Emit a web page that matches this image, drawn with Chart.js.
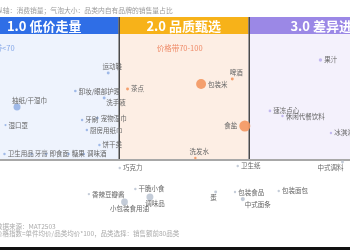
<!DOCTYPE html>
<html><head><meta charset="utf-8">
<script src="https://cdn.jsdelivr.net/npm/chart.js@4.4.0/dist/chart.umd.min.js"></script>
<style>html,body{margin:0;padding:0;background:#fff;overflow:hidden}canvas{display:block}</style>
</head><body>
<canvas id="c" width="350" height="250"></canvas>
<script>
const categories = ['运动鞋','卸妆/眼部护理','洗手液','抽纸/干湿巾','湿口罩','牙刷','宠物湿巾','厨房用纸巾','饼干类','卫生用品','牙膏','即食面','糖果','调味酒',
  '茶点','包装米','啤酒','洗发水','食盐',
  '果汁','速冻点心','休闲代餐饮料','冰淇淋',
  '巧克力','卫生纸','中式调料','干脆小食','香辣豆瓣酱','调味品','小包装食用油','蛋','包装食品','中式面条','包装面包'];
const priceIndex = [30.3,20.6,29.1,3.4,0,22.6,27.1,24.0,27.7,-0.3,7.7,12.0,18.6,23.1,
  36.0,57.7,66.9,56.0,70.6,
  92.9,78.0,81.7,96.0,
  33.7,68.5,99.4,38.3,24.6,42.6,35.1,62.0,67.7,70.0,80.6];
const salesVolume = [78.8,69.0,65.2,60.3,50.5,53.3,54.3,47.8,39.7,34.8,34.8,34.8,34.8,34.8,
  70.1,72.8,75.5,32.6,50.0,
  85.9,58.2,55.4,46.2,
  27.2,28.3,30.4,15.8,13.0,11.4,8.7,14.1,14.1,10.3,14.7];
const ownBrandShare = [1.5,1.2,1.5,8.5,0.8,1.0,1.2,1.0,1.0,1.0,1.0,1.0,1.0,1.0,
  1.5,17,1.5,1.0,21,
  2.0,1.2,1.0,1.0,
  1.0,1.0,1.5,1.0,1.0,8.5,8.0,1.5,1.0,3.0,1.0];
const tierNames = ['1.0 低价走量','2.0 品质甄选','3.0 差异进阶'];
const tierPriceLabels = ['价格带<70','价格带70-100',''];
const tierBounds = [-10.6, 33.4, 71.7, 116];
const volumeSplit = 31.5;
const chartTitle = '纵轴：消费销量；气泡大小：品类内自有品牌的销售量占比';
const footnotes = ['数据来源：MAT2503','价格指数=单件均价/品类均价*100，品类选择：销售额前80品类'];

const bandColors = ['#2f6ee6','#f7b219','#9b88e6'];
const panelColors = ['#eef3fd','#fdeee4','#f4f1fc'];
const subColors = ['#86a8e8','#ef8a67','#b0a2ea'];
const dotColors = ['rgba(150,178,230,0.9)','rgba(243,150,95,0.9)','rgba(190,178,238,0.9)'];
const lowerDot = 'rgba(190,198,212,0.9)';
const labelPlace = {'运动鞋':'above','洗手液':'belowRight','抽纸/干湿巾':'aboveLeft','啤酒':'above','洗发水':'above','食盐':'left',
  '中式调料':'belowLeft','调味品':'below','小包装食用油':'below','蛋':'belowLeft','中式面条':'belowRight'};
const FONT = '"Noto Sans CJK SC","Noto Sans",sans-serif';

function tierOf(v){ for(let i=0;i<3;i++){ if(v<tierBounds[i+1]) return i; } return 2; }

const deco = {
  id:'deco',
  beforeDatasetsDraw(chart){
    const {ctx, chartArea:a, scales:{x,y}} = chart;
    const ySplit = y.getPixelForValue(volumeSplit);
    ctx.save();
    ctx.fillStyle='#fff'; ctx.fillRect(0,0,chart.width,chart.height);
    for(let i=0;i<3;i++){
      const x0=x.getPixelForValue(tierBounds[i]), x1=x.getPixelForValue(tierBounds[i+1]);
      ctx.fillStyle=panelColors[i]; ctx.fillRect(x0,a.top,x1-x0,ySplit-a.top);
      ctx.fillStyle=bandColors[i]; ctx.fillRect(x0,a.top-17,x1-x0,17);
      ctx.fillStyle='#fff'; ctx.font='bold 13px '+FONT; ctx.textAlign='center'; ctx.textBaseline='middle';
      ctx.fillText(tierNames[i],(x0+x1)/2+(i===2?4:0),a.top-8);
      if(tierPriceLabels[i]){
        ctx.font='7.5px '+FONT; ctx.fillStyle=subColors[i];
        if(i===0){ ctx.textAlign='right'; ctx.fillText(tierPriceLabels[i], x0+45, a.top+14); }
        else { ctx.textAlign='center'; ctx.fillText(tierPriceLabels[i], (x0+x1)/2-4, a.top+14); }
      }
    }
    ctx.strokeStyle='#4a4a4a'; ctx.lineWidth=1.5;
    for(let i=1;i<3;i++){
      const xp=Math.round(x.getPixelForValue(tierBounds[i]))+0.25;
      ctx.beginPath(); ctx.moveTo(xp,a.top-17); ctx.lineTo(xp,ySplit); ctx.stroke();
    }
    ctx.strokeStyle='#a8a8a8'; ctx.lineWidth=2;
    ctx.beginPath(); ctx.moveTo(0,ySplit); ctx.lineTo(chart.width,ySplit); ctx.stroke();
    ctx.font='6.8px '+FONT; ctx.fillStyle='#9a9a9a'; ctx.textAlign='left'; ctx.textBaseline='middle';
    ctx.fillText(chartTitle,-4,10);
    ctx.font='6.5px '+FONT; ctx.fillStyle='#aaaaaa';
    ctx.fillText(footnotes[0],-4,a.bottom+9);
    ctx.fillText(footnotes[1],-4,a.bottom+16);
    ctx.fillStyle='#111'; ctx.fillRect(0,chart.height-3,chart.width,3);
    ctx.restore();
  },
  afterDatasetsDraw(chart){
    const {ctx} = chart;
    const meta = chart.getDatasetMeta(0);
    ctx.save();
    ctx.font='6.5px '+FONT; ctx.fillStyle='#666'; ctx.textBaseline='middle';
    meta.data.forEach((el,i)=>{
      const name=categories[i], r=el.options.radius, px=el.x, py=el.y;
      const p=labelPlace[name]||'right';
      let tx=px+r+2, ty=py, al='left';
      if(p==='left'){tx=px-r-2; al='right';}
      else if(p==='above'){tx=px+4; ty=py-r-5; al='center';}
      else if(p==='aboveLeft'){tx=px-5; ty=py-r-3; al='left';}
      else if(p==='belowRight'){tx=px+2; ty=py+r+3; al='left';}
      else if(p==='below'){tx=px+5; ty=py+r+3; al='center';}
      else if(p==='belowLeft'){tx=px+1; ty=py+r+4; al='right';}
      ctx.textAlign=al; ctx.fillText(name,tx,ty);
    });
    ctx.restore();
  }
};

new Chart(document.getElementById('c'),{
  type:'bubble',
  data:{datasets:[{
    data:categories.map((c,i)=>({x:priceIndex[i],y:salesVolume[i],r:1.2*Math.sqrt(ownBrandShare[i])})),
    backgroundColor:categories.map((c,i)=> salesVolume[i]<volumeSplit ? lowerDot : dotColors[tierOf(priceIndex[i])]),
    borderWidth:0,
    clip:false
  }]},
  options:{
    responsive:false, animation:false, devicePixelRatio:1,
    layout:{padding:{top:34,bottom:32,left:0,right:0}},
    scales:{x:{type:'linear',min:0,max:100,display:false},y:{min:0,max:100,display:false}},
    plugins:{legend:{display:false},tooltip:{enabled:false}}
  },
  plugins:[deco]
});
</script>
</body></html>
